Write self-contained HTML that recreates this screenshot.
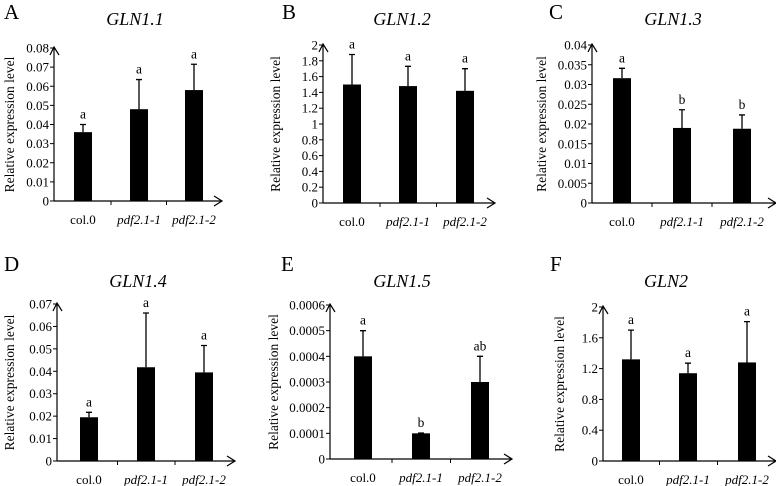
<!DOCTYPE html>
<html><head><meta charset="utf-8"><style>
body{margin:0;background:#fff}
svg{display:block;font-family:"Liberation Serif",serif}
</style></head><body>
<svg id="fig" width="776" height="486" viewBox="0 0 776 486"></svg>
<script>
const categories = ["col.0","pdf2.1-1","pdf2.1-2"];
const valsA=[0.036,0.048,0.058], errA=[0.004,0.0155,0.0135], sigA=["a","a","a"], ticksA=["0","0.01","0.02","0.03","0.04","0.05","0.06","0.07","0.08"];
const valsB=[1.5,1.48,1.42], errB=[0.38,0.25,0.28], sigB=["a","a","a"], ticksB=["0","0.2","0.4","0.6","0.8","1","1.2","1.4","1.6","1.8","2"];
const valsC=[0.0316,0.019,0.0188], errC=[0.0025,0.0046,0.0035], sigC=["a","b","b"], ticksC=["0","0.005","0.01","0.015","0.02","0.025","0.03","0.035","0.04"];
const valsD=[0.0195,0.0418,0.0395], errD=[0.0022,0.0242,0.012], sigD=["a","a","a"], ticksD=["0","0.01","0.02","0.03","0.04","0.05","0.06","0.07"];
const valsE=[0.0004,0.0001,0.0003], errE=[0.0001,0.000001,0.0001], sigE=["a","b","ab"], ticksE=["0","0.0001","0.0002","0.0003","0.0004","0.0005","0.0006"];
const valsF=[1.32,1.14,1.28], errF=[0.38,0.13,0.53], sigF=["a","a","a"], ticksF=["0","0.4","0.8","1.2","1.6","2"];

const svg=document.getElementById('fig');
const NS='http://www.w3.org/2000/svg';
function mk(tag,attrs,parent,text){const e=document.createElementNS(NS,tag);for(const k in attrs)e.setAttribute(k,attrs[k]);if(text!==undefined)e.textContent=text;parent.appendChild(e);return e;}

function panel(cfg){
  const g=mk('g',{},svg);
  
  
  const ymax=parseFloat(cfg.ticks[cfg.ticks.length-1]);
  const y=v=>cfg.y0-(v/ymax)*(cfg.y0-cfg.yt);
  const xc=i=>cfg.ax+cfg.off[i];
  const bw=18;
  const L=mk('text',{x:cfg.lx,y:cfg.ly,'font-size':21},g,cfg.letter);
  
  
  const T=mk('text',{x:cfg.tx,y:cfg.ty,'font-size':18,'font-style':'italic','text-anchor':'middle'},g,cfg.title);
  
  
  const ya=mk('path',{d:`M${cfg.ax},${cfg.y0}V${cfg.yt-1} M${cfg.ax-4},${cfg.yt+7}L${cfg.ax},${cfg.yt-1}L${cfg.ax+5},${cfg.yt+7}`,stroke:'#000',fill:'none','stroke-width':1.2},g);
  
  
  const xa=mk('path',{d:`M${cfg.ax},${cfg.y0}H${cfg.xe} M${cfg.xe-8},${cfg.y0-5}L${cfg.xe},${cfg.y0}L${cfg.xe-8},${cfg.y0+5}`,stroke:'#000',fill:'none','stroke-width':1.2},g);
  
  
  cfg.ticks.forEach((t,i)=>{
    const v=parseFloat(t), yy=y(v);
    mk('line',{x1:cfg.ax-4,x2:cfg.ax,y1:yy,y2:yy,stroke:'#000'},g);
    const tl=mk('text',{x:cfg.ax-5,y:yy+4.5,'font-size':13,'text-anchor':'end'},g,t);
    
    
  });
  [0,1].forEach(i=>{const xx=(xc(i)+xc(i+1))/2;mk('line',{x1:xx,x2:xx,y1:cfg.y0,y2:cfg.y0+4,stroke:'#000'},g);});
  const yl=mk('text',{x:0,y:0,'font-size':13.5,'text-anchor':'middle',transform:`translate(${cfg.lbx},${(cfg.y0+cfg.yt)/2}) rotate(-90)`},g,'Relative expression level');
  
  
  categories.forEach((c,i)=>{
    const v=cfg.vals[i], e=cfg.err[i], cx=xc(i);
    const b=mk('rect',{x:cx-bw/2,y:y(v),width:bw,height:cfg.y0-y(v),fill:'#000'},g);
    
    
    const eb=mk('path',{d:`M${cx},${y(v)}V${y(v+e)} M${cx-3},${y(v+e)}H${cx+3}`,stroke:'#000','stroke-width':1.3,fill:'none'},g);
    
    
    const s=mk('text',{x:cx,y:y(v+e)-6,'font-size':13.5,'text-anchor':'middle'},g,cfg.sig[i]);
    
    
    const xl=mk('text',{x:cx,y:cfg.y0+23,'font-size':13,'text-anchor':'middle','font-style':i?'italic':'normal'},g,c);
    
    
  });
}
panel({id:'a',letter:'A',title:'GLN1.1',lx:4,ly:19,tx:135,ty:25,ax:54,yt:48,y0:201,xe:222,off:[29,85,140],lbx:14,vals:valsA,err:errA,sig:sigA,ticks:ticksA});
panel({id:'b',letter:'B',title:'GLN1.2',lx:282,ly:19,tx:402,ty:25,ax:323,yt:45,y0:203,xe:495,off:[29,85,142],lbx:280,vals:valsB,err:errB,sig:sigB,ticks:ticksB});
panel({id:'c',letter:'C',title:'GLN1.3',lx:549,ly:19,tx:673,ty:25,ax:592,yt:45,y0:203,xe:776,off:[30,90,150],lbx:546,vals:valsC,err:errC,sig:sigC,ticks:ticksC});
panel({id:'d',letter:'D',title:'GLN1.4',lx:4,ly:271,tx:138,ty:287,ax:57,yt:304,y0:461,xe:235,off:[32,89,147],lbx:14,vals:valsD,err:errD,sig:sigD,ticks:ticksD});
panel({id:'e',letter:'E',title:'GLN1.5',lx:281,ly:271,tx:402,ty:287,ax:330,yt:305,y0:459,xe:512,off:[33,91,150],lbx:278,vals:valsE,err:errE,sig:sigE,ticks:ticksE});
panel({id:'f',letter:'F',title:'GLN2',lx:550,ly:271,tx:666,ty:287,ax:603,yt:307,y0:461,xe:776,off:[28,85,144],lbx:564,vals:valsF,err:errF,sig:sigF,ticks:ticksF});
</script>
</body></html>
